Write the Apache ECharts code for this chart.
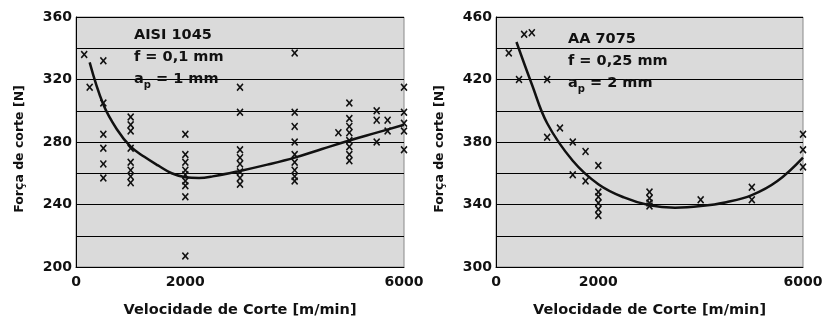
<!DOCTYPE html>
<html>
<head>
<meta charset="utf-8">
<script src="https://cdn.jsdelivr.net/npm/echarts@6/dist/echarts.min.js"></script>
<style>
  html, body { margin: 0; padding: 0; background: #fff; }
  #chart { width: 839px; height: 323px; }
</style>
</head>
<body>
<div id="chart"></div>
<script>
// AISI 1045 measurements
const aisiSpeed = [150, 250, 500, 500, 500, 500, 500, 500,
  1000, 1000, 1000, 1000, 1000, 1000, 1000, 1000,
  2000, 2000, 2000, 2000, 2000, 2000, 2000, 2000, 2000,
  3000, 3000, 3000, 3000, 3000, 3000, 3000, 3000,
  4000, 4000, 4000, 4000, 4000, 4000, 4000, 4000, 4000,
  4800, 5000, 5000, 5000, 5000, 5000, 5000, 5000, 5000,
  5500, 5500, 5500, 5700, 5700,
  6000, 6000, 6000, 6000, 6000];
const aisiForce = [336, 315, 332, 305, 285, 276, 266, 257,
  296, 291, 287, 276, 267, 262, 258, 254,
  285, 272, 267, 262, 259, 255, 252, 245, 207,
  315, 299, 275, 270, 266, 261, 257, 253,
  337, 299, 290, 280, 272, 267, 262, 258, 255,
  286, 305, 295, 290, 286, 281, 277, 272, 268,
  300, 294, 280, 294, 287,
  315, 299, 292, 287, 275];
// AISI 1045 fitted curve
const aisiFitSpeed = [250, 500, 750, 1000, 1250, 1500, 1750, 2000, 2250, 2500, 3000, 3500, 4000, 4500, 5000, 5500, 6000];
const aisiFitForce = [331, 304, 288, 277, 270.5, 265, 260, 257.5, 257, 258, 261.5, 265.5, 270, 275.5, 281, 286, 291];

// AA 7075 measurements
const aaSpeed = [250, 550, 700, 450, 1000, 1000, 1250, 1500, 1750, 1500, 1750,
  2000, 2000, 2000, 2000, 2000, 2000,
  3000, 3000, 3000, 3000, 4000, 5000, 5000,
  6000, 6000, 6000];
const aaForce = [437, 449, 450, 420, 420, 383, 389, 380, 374, 359, 355,
  365, 348, 345, 341, 337, 333,
  348, 344, 341, 339, 343, 351, 343,
  385, 375, 364];
// AA 7075 fitted curve
const aaFitSpeed = [400, 700, 1000, 1500, 2000, 2500, 3000, 3500, 4000, 4500, 5000, 5500, 6000];
const aaFitForce = [444, 417, 392, 368, 353, 344.5, 339.5, 338, 339, 341.5, 346, 355, 370];

const xTickLabels = [0, 2000, 6000];
const aisiYTickLabels = [200, 240, 280, 320, 360];
const aaYTickLabels = [300, 340, 380, 420, 460];

const zip = (a, b) => a.map((v, i) => [v, b[i]]);

const font = 'DejaVu Sans, Verdana, sans-serif';
const xMark = 'path://M0,1.5L1.5,0L5,3.5L8.5,0L10,1.5L6.5,5L10,8.5L8.5,10L5,6.5L1.5,10L0,8.5L3.5,5Z';

function xAxis(gridIndex) {
  return {
    type: 'value', gridIndex: gridIndex, min: 0, max: 6000, interval: 2000,
    name: 'Velocidade de Corte [m/min]', nameLocation: 'middle', nameGap: 36,
    nameTextStyle: { fontFamily: font, fontWeight: 'bold', fontSize: 14.5, color: '#111' },
    axisLine: { lineStyle: { color: '#000', width: 1 } },
    axisTick: { show: false },
    splitLine: { show: false },
    axisLabel: {
      fontFamily: font, fontWeight: 'bold', fontSize: 14, color: '#111', margin: 8,
      formatter: v => xTickLabels.includes(v) ? String(v) : ''
    }
  };
}

function yAxis(gridIndex, min, max, labels) {
  return {
    type: 'value', gridIndex: gridIndex, min: min, max: max, interval: 20,
    name: 'Força de corte [N]', nameLocation: 'middle', nameGap: 50, nameRotate: 90,
    nameTextStyle: { fontFamily: font, fontWeight: 'bold', fontSize: 12.5, color: '#111', padding: [0, 14, 0, 0] },
    axisLine: { show: true, lineStyle: { color: '#000', width: 1 } },
    axisTick: { show: false },
    splitLine: { lineStyle: { color: '#000', width: 1 } },
    axisLabel: {
      fontFamily: font, fontWeight: 'bold', fontSize: 14, color: '#111', margin: 4,
      formatter: v => labels.includes(v) ? String(v) : ''
    }
  };
}

function titleBlock(left, top, lines) {
  return {
    left: left, top: top, padding: 0,
    text: lines,
    textStyle: {
      fontFamily: font, fontWeight: 'bold', fontSize: 14.5, color: '#111', lineHeight: 22,
      rich: {
        t: { fontFamily: font, fontWeight: 'bold', fontSize: 14.5, color: '#111', lineHeight: 22 },
        sub: { fontFamily: font, fontWeight: 'bold', fontSize: 10, color: '#111', lineHeight: 22, padding: [13, 0, 0, 0] }
      }
    }
  };
}

const chart = echarts.init(document.getElementById('chart'), null, { renderer: 'canvas' });

const option = {
  animation: false,
  backgroundColor: '#fff',
  title: [
    titleBlock(134, 24, '{t|AISI 1045}\n{t|f = 0,1 mm}\n{t|a}{sub|p}{t| = 1 mm}'),
    titleBlock(568, 28, '{t|AA 7075}\n{t|f = 0,25 mm}\n{t|a}{sub|p}{t| = 2 mm}')
  ],
  grid: [
    { left: 76, right: 435, top: 17, bottom: 56, show: true, backgroundColor: '#dadada', borderColor: '#8a8a8a', borderWidth: 1 },
    { left: 496, right: 36, top: 17, bottom: 56, show: true, backgroundColor: '#dadada', borderColor: '#8a8a8a', borderWidth: 1 }
  ],
  xAxis: [xAxis(0), xAxis(1)],
  yAxis: [
    yAxis(0, 200, 360, aisiYTickLabels),
    yAxis(1, 300, 460, aaYTickLabels)
  ],
  series: [
    {
      type: 'line', xAxisIndex: 0, yAxisIndex: 0, smooth: 0.4, showSymbol: false,
      lineStyle: { color: '#111', width: 2.5 },
      data: zip(aisiFitSpeed, aisiFitForce), z: 3
    },
    {
      type: 'scatter', xAxisIndex: 0, yAxisIndex: 0, symbol: xMark, symbolSize: [7, 8],
      itemStyle: { color: '#111', opacity: 1 },
      data: zip(aisiSpeed, aisiForce), z: 4
    },
    {
      type: 'line', xAxisIndex: 1, yAxisIndex: 1, smooth: 0.4, showSymbol: false,
      lineStyle: { color: '#111', width: 2.5 },
      data: zip(aaFitSpeed, aaFitForce), z: 3
    },
    {
      type: 'scatter', xAxisIndex: 1, yAxisIndex: 1, symbol: xMark, symbolSize: [7, 8],
      itemStyle: { color: '#111', opacity: 1 },
      data: zip(aaSpeed, aaForce), z: 4
    }
  ]
};

chart.setOption(option);
</script>
</body>
</html>
